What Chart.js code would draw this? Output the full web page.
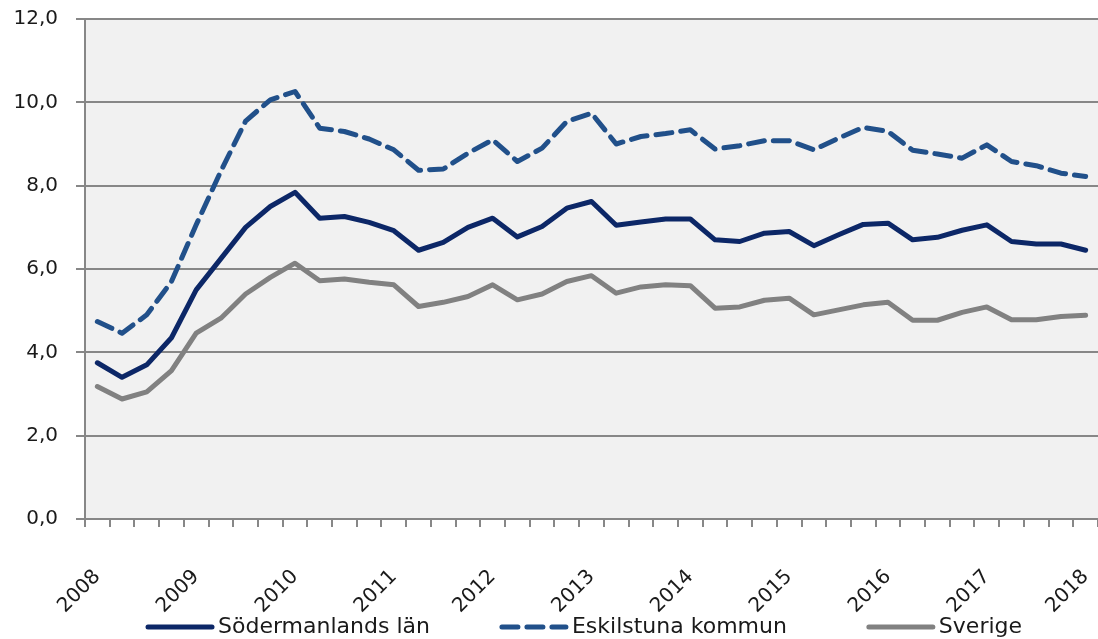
<!DOCTYPE html>
<html>
<head>
<meta charset="utf-8">
<script src="https://cdn.jsdelivr.net/npm/chart.js@4/dist/chart.umd.min.js"></script>
<style>
html,body{margin:0;padding:0;background:#ffffff;overflow:hidden}
#wrap{width:1098px;height:639px;position:relative}
</style>
</head>
<body>
<div id="wrap"><canvas id="c" width="1098" height="639"></canvas></div>
<script>
// Year tick labels (one every 4 quarters)
const years = ['2008','2009','2010','2011','2012','2013','2014','2015','2016','2017','2018'];
// Quarterly categories 2008 kv1 .. 2018 kv1
const categories = years.flatMap(y => ['kv1','kv2','kv3','kv4'].map(q => y + ' ' + q)).slice(0, 41);

const sodermanland = [3.75,3.40,3.70,4.35,5.50,6.25,7.00,7.50,7.84,7.22,
                      7.26,7.12,6.92,6.45,6.64,7.00,7.22,6.77,7.02,7.46,
                      7.62,7.05,7.13,7.20,7.20,6.70,6.66,6.86,6.90,6.56,
                      6.82,7.07,7.10,6.70,6.76,6.93,7.06,6.66,6.60,6.60,6.45];
const eskilstuna   = [4.74,4.46,4.90,5.70,7.06,8.35,9.55,10.06,10.26,9.38,
                      9.30,9.12,8.86,8.37,8.40,8.78,9.10,8.58,8.90,9.54,
                      9.74,9.00,9.18,9.25,9.34,8.88,8.96,9.08,9.08,8.86,
                      9.14,9.40,9.30,8.85,8.76,8.66,8.98,8.58,8.48,8.30,8.22];
const sverige      = [3.18,2.88,3.05,3.56,4.46,4.82,5.40,5.80,6.14,5.72,
                      5.76,5.68,5.62,5.10,5.20,5.34,5.62,5.26,5.40,5.70,
                      5.84,5.42,5.57,5.62,5.60,5.06,5.09,5.25,5.30,4.90,
                      5.02,5.14,5.20,4.77,4.77,4.96,5.09,4.78,4.78,4.86,4.89];
const seriesNames = ['Södermanlands län','Eskilstuna kommun','Sverige'];

const FONT = "'DejaVu Sans', sans-serif";
const GRID = '#878787';
const TXT = '#1a1a1a';

const plotBg = {
  id: 'plotBg',
  beforeDraw(chart) {
    const {ctx, chartArea: a} = chart;
    ctx.save();
    ctx.fillStyle = '#f1f1f1';
    ctx.fillRect(a.left, a.top, a.right - a.left, a.bottom - a.top);
    ctx.restore();
  }
};

// Legend drawn below the axis labels, built from the datasets
const legendGaps = [70, 80, 0];
const lineLegend = {
  id: 'lineLegend',
  afterDraw(chart) {
    const {ctx, chartArea: a} = chart;
    const y = chart.height - 12;
    let x = a.left + 61;
    ctx.save();
    ctx.font = "22px " + FONT;
    ctx.textBaseline = 'middle';
    ctx.textAlign = 'left';
    chart.data.datasets.forEach((ds, i) => {
      ctx.strokeStyle = ds.borderColor;
      ctx.lineWidth = ds.borderWidth;
      ctx.lineCap = 'round';
      ctx.setLineDash(ds.borderDash || []);
      ctx.beginPath();
      ctx.moveTo(x + 2, y);
      ctx.lineTo(x + 66, y);
      ctx.stroke();
      ctx.setLineDash([]);
      ctx.fillStyle = TXT;
      ctx.fillText(ds.label, x + 72, y);
      x += 72 + ctx.measureText(ds.label).width + legendGaps[i];
    });
    ctx.restore();
  }
};

const common = {pointRadius: 0, pointHoverRadius: 0, tension: 0, fill: false,
  borderWidth: 5, borderJoinStyle: 'round', borderCapStyle: 'round'};

new Chart(document.getElementById('c'), {
  type: 'line',
  data: {
    labels: categories,
    datasets: [
      Object.assign({label: seriesNames[0], data: sodermanland, borderColor: '#0c2767', backgroundColor: '#0c2767'}, common),
      Object.assign({label: seriesNames[1], data: eskilstuna, borderColor: '#21508a', backgroundColor: '#21508a', borderDash: [16, 9]}, common),
      Object.assign({label: seriesNames[2], data: sverige, borderColor: '#818181', backgroundColor: '#818181'}, common)
    ]
  },
  plugins: [plotBg, lineLegend],
  options: {
    responsive: false,
    devicePixelRatio: 1,
    animation: false,
    events: [],
    layout: {padding: {top: 19, left: 0, right: 0, bottom: 0}},
    plugins: {
      tooltip: {enabled: false},
      legend: {display: false}
    },
    scales: {
      x: {
        type: 'category',
        offset: true,
        grid: {offset: true, drawOnChartArea: false, drawTicks: true, tickLength: 8, color: GRID, lineWidth: 2},
        border: {color: GRID, width: 2},
        ticks: {
          autoSkip: false, maxRotation: 45, minRotation: 45, padding: 38,
          color: TXT, font: {family: FONT, size: 20},
          callback: (v, i) => (i % 4 === 0 ? years[i / 4] : '')
        },
        afterFit(s) { s.height = 120; s.paddingLeft = 0; s.paddingRight = 0; }
      },
      y: {
        min: 0, max: 12,
        grid: {color: GRID, lineWidth: 2, tickLength: 9},
        border: {color: GRID, width: 2},
        ticks: {
          stepSize: 2, padding: 18, color: TXT, font: {family: FONT, size: 20},
          callback: v => v.toFixed(1).replace('.', ',')
        },
        afterFit(s) { s.width = 85; s.paddingTop = 0; s.paddingBottom = 0; }
      }
    }
  }
});
</script>
</body>
</html>
